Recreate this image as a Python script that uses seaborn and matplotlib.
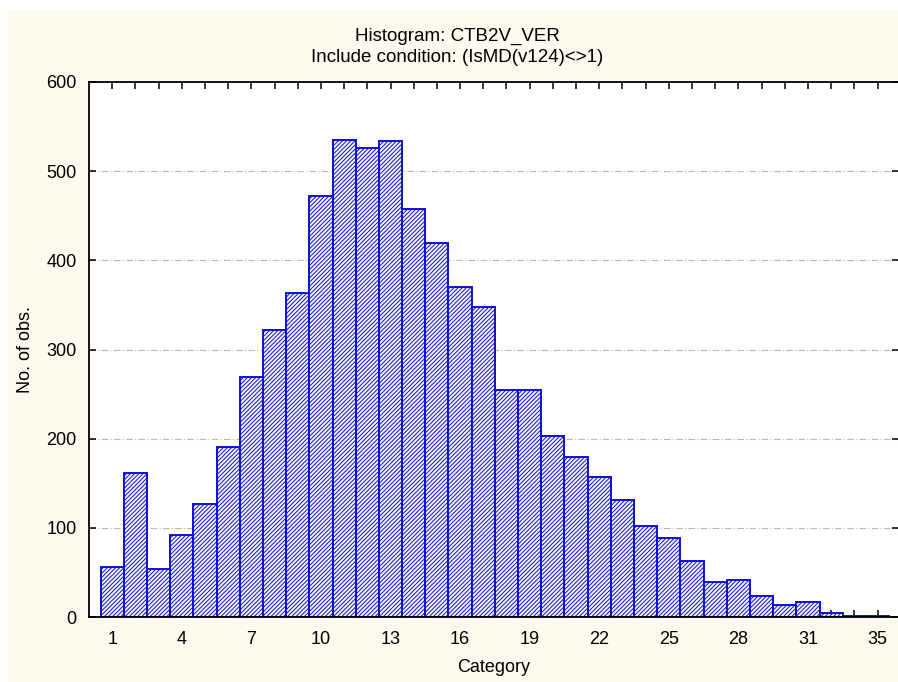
import matplotlib
matplotlib.use("Agg")
import matplotlib.pyplot as plt
import seaborn as sns
import numpy as np
from matplotlib.patches import Rectangle

categories = list(range(1, 35))
counts = [56, 161, 54, 92, 127, 191, 269, 322, 363, 472, 535, 526, 534, 458,
          419, 370, 348, 255, 255, 203, 179, 157, 131, 102, 89, 63, 39, 42,
          23, 13, 17, 4, 1, 1]
tick_positions = [1, 4, 7, 10, 13, 16, 19, 22, 25, 28, 31, 34]
tick_labels = ["1", "4", "7", "10", "13", "16", "19", "22", "25", "28", "31", "35"]
title_text = "Histogram: CTB2V_VER\nInclude condition: (IsMD(v124)<>1)"

sns.set_style("white")
plt.rcParams['font.family'] = ['Liberation Sans', 'DejaVu Sans']
plt.rcParams['hatch.linewidth'] = 0.7
plt.rcParams['text.color'] = 'black'
plt.rcParams['axes.labelcolor'] = 'black'
plt.rcParams['xtick.color'] = 'black'
plt.rcParams['ytick.color'] = 'black'

W, H = 898, 682
fig = plt.figure(figsize=(W / 100, H / 100), dpi=100, facecolor="white")
cream = "#fdf9ee"
fig.patches.append(Rectangle((8 / W, 0), 1 - 8 / W, 1 - 10 / H, transform=fig.transFigure,
                             facecolor=cream, edgecolor="none", zorder=-10))

ax = fig.add_axes([89 / W, (H - 617) / H, 1 - 89 / W + 0.001, (617 - 82) / H])
ax.set_facecolor("white")

sns.histplot(x=categories, weights=counts, discrete=True, shrink=1.0, ax=ax,
             element="bars", fill=True, color="#f4f4ff", edgecolor="#1010d0",
             linewidth=1.4, hatch="////////", alpha=1.0)

ax.set_xlim(0, 34.92)
ax.set_ylim(0, 600)
ax.set_yticks([0, 100, 200, 300, 400, 500, 600])
ax.set_xticks(range(1, 35), minor=True)
ax.set_xticks(tick_positions)
ax.set_xticklabels(tick_labels)

for y in [100, 200, 300, 400, 500]:
    ax.axhline(y, color="#b8b8b8", lw=0.8, ls=(0, (6, 2, 1, 2)), zorder=0.5)

ax.tick_params(axis="both", which="both", direction="in", length=5, width=1.1,
               color="black", labelsize=13, pad=10)
ax.tick_params(axis="x", which="both", top=True, bottom=True)
ax.tick_params(axis="y", left=True, right=True, pad=9)
ax.tick_params(axis="x", which="minor", length=5)

for s in ["left", "bottom", "top"]:
    ax.spines[s].set_visible(True)
    ax.spines[s].set_color("black")
    ax.spines[s].set_linewidth(1.3)
ax.spines["right"].set_visible(False)

ax.set_xlabel("Category", fontsize=13, labelpad=8)
ax.set_ylabel("No. of obs.", fontsize=13, labelpad=9)

fig.text(457 / W, 1 - 47 / H, title_text, ha="center", va="center", fontsize=13.5,
         linespacing=1.35)

fig.savefig("out.png", dpi=100, facecolor=fig.get_facecolor())
